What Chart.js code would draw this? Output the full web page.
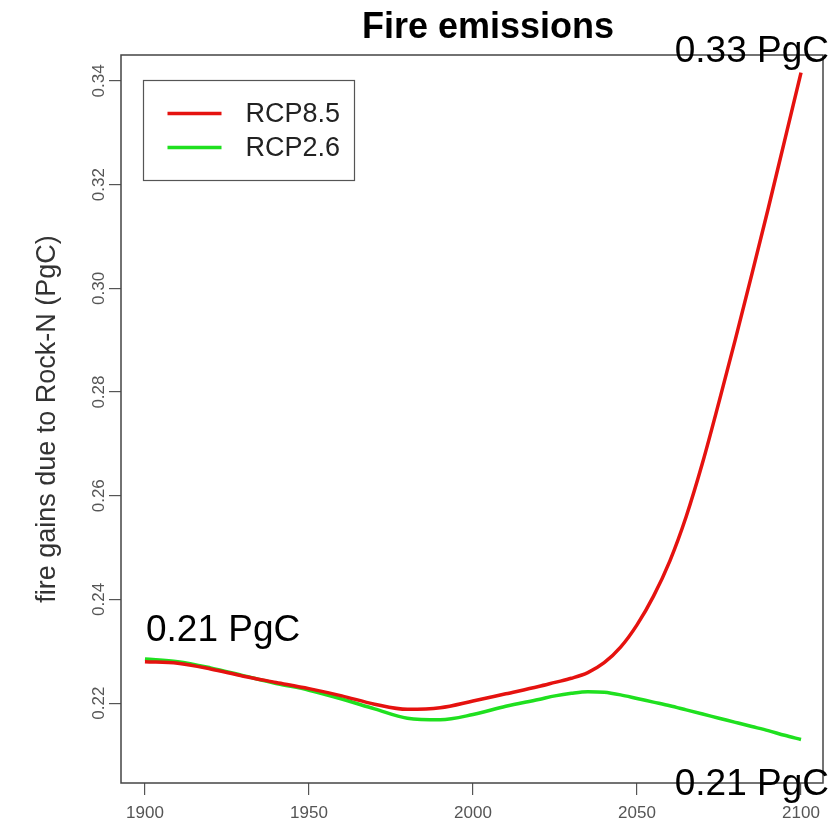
<!DOCTYPE html>
<html>
<head>
<meta charset="utf-8">
<title>Fire emissions</title>
<script src="https://cdn.jsdelivr.net/npm/chart.js@4/dist/chart.umd.min.js"></script>
<style>
  html, body { margin: 0; padding: 0; background: #fff; }
  canvas { display: block; }
</style>
</head>
<body>
<canvas id="fireChart" width="831" height="833"></canvas>
<script>
const years = [1900, 1910, 1920, 1930, 1940, 1950, 1960, 1970, 1980, 1990, 2000,
               2010, 2020, 2025, 2030, 2035, 2040, 2045, 2050, 2055, 2060, 2065, 2070,
               2075, 2080, 2085, 2090, 2095, 2100];
const rcp85 = [0.2280, 0.2277, 0.2266, 0.2252, 0.2240, 0.2228, 0.2214, 0.2198, 0.2188, 0.2191, 0.2204,
               0.2218, 0.2232, 0.2240, 0.2248, 0.2259, 0.2278, 0.2308, 0.2351, 0.2406, 0.2474, 0.2560, 0.2664,
               0.2781, 0.2902, 0.3027, 0.3154, 0.3285, 0.3416];
const rcp26 = [0.2285, 0.2280, 0.2268, 0.2253, 0.2238, 0.2225, 0.2208, 0.2189, 0.2171, 0.2168, 0.2178,
               0.2194, 0.2207, 0.2214, 0.2219, 0.2222, 0.2221, 0.2216, 0.2209, 0.2202, 0.2195, 0.2187, 0.2179,
               0.2171, 0.2163, 0.2155, 0.2147, 0.2138, 0.2130];
const seriesNames = ['RCP8.5', 'RCP2.6'];
const xTicks = [1900, 1950, 2000, 2050, 2100];
const yTicks = [0.22, 0.24, 0.26, 0.28, 0.30, 0.32, 0.34];
const notes = ['0.33 PgC', '0.21 PgC', '0.21 PgC'];

const FONT = '"Liberation Sans", Arial, Helvetica, sans-serif';
const RED = '#e5120f';
const GREEN = '#1fe01f';

const ctx = document.getElementById('fireChart').getContext('2d');

// R-style decorations: frame, rotated y labels, legend box, title and notes
const plotExtras = {
  id: 'plotExtras',
  afterDraw(chart) {
    const { ctx, chartArea: a, scales: { x, y } } = chart;
    ctx.save();

    ctx.strokeStyle = '#444';
    ctx.lineWidth = 1.5;
    ctx.strokeRect(a.left, a.top, a.right - a.left, a.bottom - a.top);

    // y tick labels run along the axis
    ctx.fillStyle = '#555';
    ctx.font = '17px ' + FONT;
    ctx.textAlign = 'center';
    ctx.textBaseline = 'middle';
    yTicks.forEach(v => {
      ctx.save();
      ctx.translate(a.left - 22, y.getPixelForValue(v));
      ctx.rotate(-Math.PI / 2);
      ctx.fillText(v.toFixed(2), 0, 0);
      ctx.restore();
    });

    // axis title, centred on the plot region
    ctx.save();
    ctx.fillStyle = '#333';
    ctx.font = '27px ' + FONT;
    ctx.translate(48, (a.top + a.bottom) / 2);
    ctx.rotate(-Math.PI / 2);
    ctx.fillText('fire gains due to Rock-N (PgC)', 0, 0);
    ctx.restore();

    // legend
    const lx = 143.5, ly = 80.5;
    ctx.lineWidth = 1.2;
    ctx.strokeStyle = '#555';
    ctx.strokeRect(lx, ly, 211, 100);
    ctx.font = '27px ' + FONT;
    ctx.textAlign = 'left';
    chart.data.datasets.forEach((ds, i) => {
      const rowY = ly + 33 + i * 34;
      ctx.strokeStyle = ds.borderColor;
      ctx.lineWidth = 3.5;
      ctx.beginPath();
      ctx.moveTo(lx + 24, rowY);
      ctx.lineTo(lx + 78, rowY);
      ctx.stroke();
      ctx.fillStyle = '#222';
      ctx.fillText(ds.label, lx + 102, rowY + 1);
    });

    // title
    ctx.fillStyle = '#000';
    ctx.font = 'bold 36px ' + FONT;
    ctx.textAlign = 'center';
    ctx.textBaseline = 'alphabetic';
    ctx.fillText('Fire emissions', 488, 38);

    // start / end notes
    ctx.font = '37px ' + FONT;
    ctx.textAlign = 'right';
    ctx.fillText(notes[0], chart.width - 2, a.top + 7);
    ctx.fillText(notes[2], chart.width - 2, a.bottom + 12);
    ctx.textAlign = 'left';
    ctx.fillText(notes[1], x.getPixelForValue(years[0]) + 1, 641);

    ctx.restore();
  }
};

const toPoints = vals => years.map((yr, i) => ({ x: yr, y: vals[i] }));

new Chart(ctx, {
  type: 'line',
  data: {
    datasets: [
      {
        label: seriesNames[0],
        data: toPoints(rcp85),
        borderColor: RED,
        borderWidth: 3.5,
        pointRadius: 0,
        cubicInterpolationMode: 'monotone',
        fill: false
      },
      {
        label: seriesNames[1],
        data: toPoints(rcp26),
        borderColor: GREEN,
        borderWidth: 3.5,
        pointRadius: 0,
        cubicInterpolationMode: 'monotone',
        fill: false
      }
    ]
  },
  options: {
    responsive: false,
    animation: false,
    layout: { padding: { top: 55, right: 8, bottom: 0, left: 0 } },
    plugins: {
      legend: { display: false },
      tooltip: { enabled: false },
      title: { display: false }
    },
    scales: {
      x: {
        type: 'linear',
        min: 1892.7,
        max: 2106.7,
        afterBuildTicks: s => { s.ticks = xTicks.map(v => ({ value: v })); },
        afterFit: s => { s.height = 50; },
        border: { display: false },
        grid: { drawOnChartArea: false, drawTicks: true, tickLength: 12, color: '#555', lineWidth: 1.2 },
        ticks: {
          color: '#555',
          font: { family: FONT, size: 17 },
          padding: 8,
          maxRotation: 0,
          autoSkip: false,
          callback: v => String(v)
        }
      },
      y: {
        type: 'linear',
        min: 0.2046,
        max: 0.345,
        afterBuildTicks: s => { s.ticks = yTicks.map(v => ({ value: v })); },
        afterFit: s => { s.width = 121; },
        border: { display: false },
        grid: { drawOnChartArea: false, drawTicks: true, tickLength: 12, color: '#555', lineWidth: 1.2 },
        ticks: { display: false }
      }
    }
  },
  plugins: [plotExtras]
});
</script>
</body>
</html>
